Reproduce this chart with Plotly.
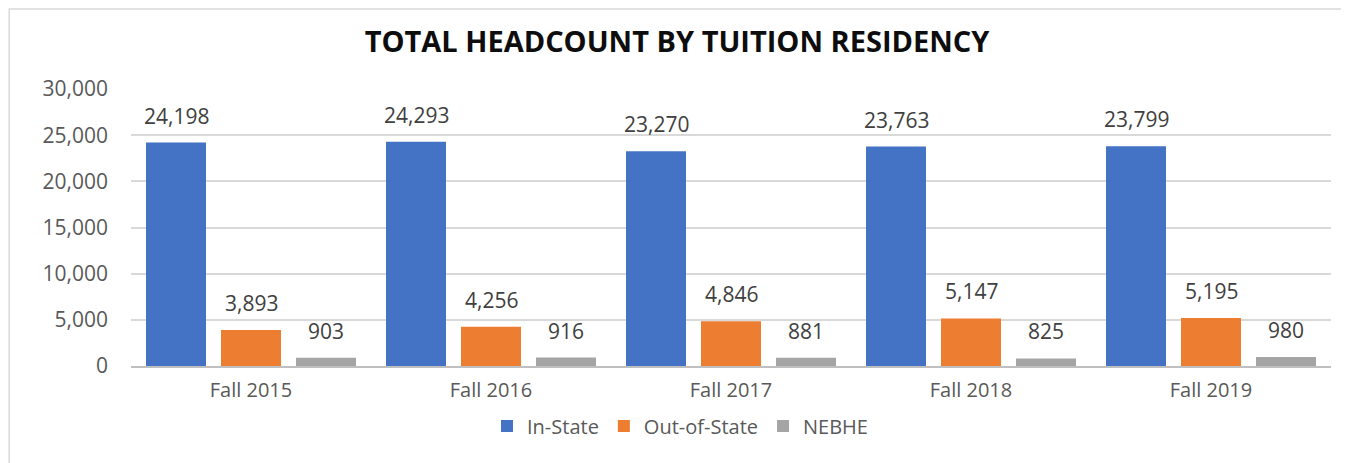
import plotly.graph_objects as go

categories = ["Fall 2015", "Fall 2016", "Fall 2017", "Fall 2018", "Fall 2019"]
in_state = [24198, 24293, 23270, 23763, 23799]
out_state = [3893, 4256, 4846, 5147, 5195]
nebhe = [903, 916, 881, 825, 980]
series_names = ["In-State", "Out-of-State", "NEBHE"]
series_values = [in_state, out_state, nebhe]
colors = ["#4472C4", "#ED7D31", "#A5A5A5"]
y_ticks = [0, 5000, 10000, 15000, 20000, 25000, 30000]

FONT = "Open Sans"
W, H = 1341, 455
fig = go.Figure()
for name, vals, c in zip(series_names, series_values, colors):
    fig.add_trace(go.Bar(name=name, x=categories, y=vals, marker=dict(color=c, line=dict(width=0)),
                         hoverinfo="x+y+name"))

offsets = [-75, 0, 75]
for vals, off in zip(series_values, offsets):
    for cat, v in zip(categories, vals):
        fig.add_annotation(x=cat, y=v, xref="x", yref="y", text=f"{v:,}", showarrow=False,
                           xshift=off, yshift=11, yanchor="bottom",
                           font=dict(family=FONT, size=21, color="#404040"))

fig.add_shape(type="rect", xref="paper", yref="paper", x0=-0.1015, x1=1.2, y0=-0.5, y1=1.289,
              line=dict(color="#D9D9D9", width=1.5), layer="below")

fig.update_layout(
    width=W, height=H,
    margin=dict(l=123, r=18, t=81, b=97),
    paper_bgcolor="white", plot_bgcolor="white",
    barmode="group", bargap=0.0625, bargroupgap=0.2,
    title=dict(text="<b>TOTAL HEADCOUNT BY TUITION RESIDENCY</b>", x=(677 - 8) / W, xref="container",
               y=1 - 34 / H, yref="container", xanchor="center", yanchor="middle",
               font=dict(family=FONT, size=29, color="#0D0D0D")),
    font=dict(family=FONT, size=20, color="#595959"),
    legend=dict(orientation="h", x=0.4575, xanchor="center", y=-0.2166, yanchor="middle",
                font=dict(family=FONT, size=20, color="#595959"), itemwidth=30,
                traceorder="normal"),
    showlegend=True,
)
fig.update_yaxes(range=[0, 30000], tickvals=y_ticks, tickformat=",", showgrid=True,
                 gridcolor="#D9D9D9", gridwidth=1.5, zeroline=False, showline=False,
                 ticklabelstandoff=22, tickfont=dict(family=FONT, size=21, color="#595959"))
fig.update_xaxes(showline=True, linecolor="#BFBFBF", linewidth=2, ticks="",
                 tickfont=dict(family=FONT, size=20, color="#595959"), ticklabelstandoff=5)

fig.write_html("out.html")
